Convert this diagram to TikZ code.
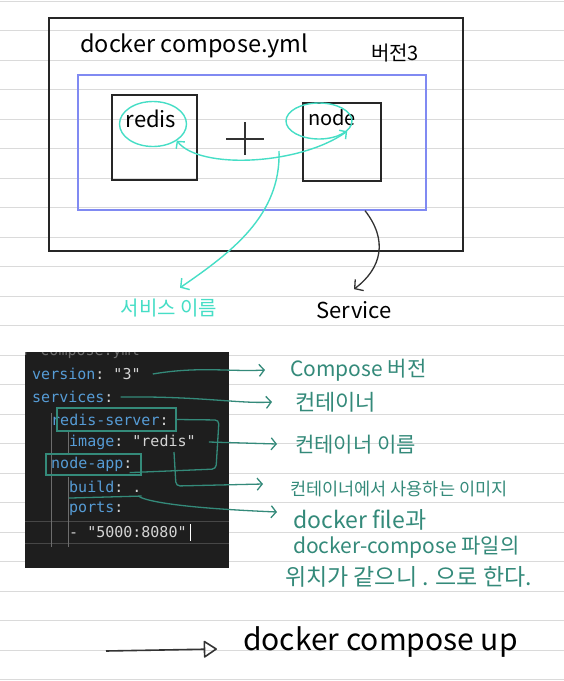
\documentclass[tikz,border=0pt]{standalone}
\usepackage{fontspec}
\setmainfont{Noto Sans CJK KR}
\setmonofont{DejaVu Sans Mono}
\usetikzlibrary{shapes.geometric, arrows.meta, positioning}

\definecolor{penteal}{RGB}{70,222,198}
\definecolor{darkteal}{RGB}{52,138,122}
\definecolor{penblue}{RGB}{128,138,242}
\definecolor{ruled}{RGB}{218,218,218}
\definecolor{codebg}{RGB}{30,30,30}
\definecolor{codekey}{RGB}{86,156,214}
\definecolor{codeval}{RGB}{212,212,212}

\begin{document}
\begin{tikzpicture}[
    x=1pt, y=-1pt,
    ruleline/.style={draw=ruled, line width=0.8pt},
    box/.style={rectangle, draw=black!85, line width=1.3pt, inner sep=0pt},
    ring/.style={ellipse, draw=penteal, line width=1.4pt, inner sep=0pt},
    hand/.style={font=\fontsize{20}{24}\selectfont, inner sep=0pt},
    note/.style={hand, font=\fontsize{21}{24}\selectfont, text=darkteal, anchor=west},
    code/.style={font=\ttfamily\fontsize{15}{18}\selectfont, text=codeval, anchor=west, inner sep=0pt},
    codebox/.style={rectangle, draw=darkteal, line width=1.2pt, inner sep=0pt},
    link/.style={draw=penteal, line width=1.4pt},
    tealline/.style={draw=darkteal, line width=1.3pt},
    tealarrow/.style={tealline, -{Straight Barb[length=5pt, width=12pt]}},
    pen/.style={draw=black!80, line width=1.3pt}
]
    % paper
    \fill[white] (0,0) rectangle (564,681);
    \useasboundingbox (0,0) rectangle (564,681);
    \foreach \k in {0,...,23}
        \draw[ruleline] (0,1+29.5*\k) -- (564,1+29.5*\k);

    % compose file sketch
    \node[box, minimum width=414, minimum height=233] (composefile) at (256,134.5) {};
    \node[box, draw=penblue, minimum width=348, minimum height=135] (servicebox) at (252,142.5) {};
    \node[box, minimum width=85, minimum height=85] (redisbox) at (154.5,137.5) {};
    \node[box, minimum width=78, minimum height=78] (nodebox) at (342,142) {};
    \node[hand, font=\fontsize{23.5}{28}\selectfont, anchor=west] (filename) at (80,46) {docker compose.yml};
    \node[hand] (verlabel) at (395,53) {버전3};
    \node[hand, font=\fontsize{22}{26}\selectfont] (redislabel) at (151,119) {redis};
    \node[hand] (nodelabel) at (332,118) {node};
    \draw[pen] (226,139) -- (264,139) (245,122) -- (245,155);

    % service names
    \node[ring, minimum width=67, minimum height=45] (redisring) at (153,124) {};
    \node[ring, minimum width=66, minimum height=36] (nodering) at (319,121) {};
    \coordinate (svcjoin) at (279,151);
    \draw[link, {Straight Barb[length=5pt, width=11pt]}-{Straight Barb[length=5pt, width=11pt]}]
        (redisring.-35) .. controls (200,170) and (300,165) .. (nodering.-20);
    \node[hand, text=penteal] (svcname) at (169,308) {서비스 이름};
    \node[hand, font=\fontsize{22}{26}\selectfont] (svclabel) at (354,310) {Service};
    \draw[link, -{Straight Barb[length=6pt, width=14pt]}]
        (svcjoin) .. controls (281,215) and (232,252) .. ([xshift=11pt, yshift=11pt]svcname.north);
    \draw[pen, -{Straight Barb[length=6pt, width=14pt]}]
        ([xshift=113pt]servicebox.south) .. controls (388,240) and (382,268) .. ([yshift=12pt]svclabel.north);

    % editor
    \node[fill=codebg, minimum width=204, minimum height=216, inner sep=0pt, anchor=north west] (editor) at (25,352) {};
    \begin{scope}
        \clip (editor.north west) rectangle (editor.south east);
        \node[code, text=gray!80!codebg, anchor=base east] (tabname) at (140,355) {docker-compose.yml};
    \end{scope}
    \draw[draw=white!18!codebg, line width=0.8pt] (25,521) -- (229,521) (25,543) -- (229,543);
    \draw[draw=white!35!codebg, line width=0.8pt] (51,413) -- (51,547) (68,432) -- (68,453) (68,477) -- (68,547);
    \node[code] (lversion) at (32,374) {\textcolor{codekey}{version}: "3"};
    \node[code] (lservices) at (32,397) {\textcolor{codekey}{services}:};
    \node[code] (lredis) at (51,420) {\textcolor{codekey}{redis-server}:};
    \node[code] (limage) at (69,442) {\textcolor{codekey}{image}: "redis"};
    \node[code] (lnode) at (51,464) {\textcolor{codekey}{node-app}:};
    \node[code] (lbuild) at (69,487) {\textcolor{codekey}{build}: .};
    \node[code] (lports) at (69,509) {\textcolor{codekey}{ports}:};
    \node[code] (lport) at (69,532) {- "5000:8080"};
    \draw[white, line width=1pt] (190,524) -- (190,541);
    \node[codebox, minimum width=119, minimum height=23] (redisname) at (116.5,419.5) {};
    \node[codebox, minimum width=95, minimum height=21] (nodename) at (93.5,464.5) {};

    % notes
    \node[note] (nver) at (290,370) {Compose 버전};
    \node[note, font=\fontsize{22}{26}\selectfont] (ncont) at (295,402) {컨테이너};
    \node[note] (nname) at (295,445) {컨테이너 이름};
    \node[note, font=\fontsize{17.5}{21}\selectfont] (nimg) at (290,489) {컨테이너에서 사용하는 이미지};
    \node[note, font=\fontsize{23}{26}\selectfont] (nfileA) at (293,520) {docker file과};
    \node[note] (nfileB) at (293,547) {docker-compose 파일의};
    \node[note, font=\fontsize{23}{26}\selectfont] (nfileC) at (285,577) {위치가 같으니 . 으로 한다.};

    % annotation arrows
    \coordinate (imgval) at (174,452);
    \draw[tealarrow] ([xshift=12pt]lversion.east) .. controls (200,366) and (230,372) .. ([xshift=-25pt]nver.west);
    \draw[tealarrow] ([xshift=7pt]lservices.east) .. controls (200,396) and (240,404) .. ([xshift=-23pt]ncont.west);
    \draw[tealarrow] ([xshift=13pt]limage.east) -- ([xshift=-18pt, yshift=1pt]nname.west);
    \draw[tealline, rounded corners=4pt] (redisname.east) -- (219,420) -- (216,469) -- ([xshift=-12pt, yshift=3pt]nodename.south east);
    \draw[tealarrow, rounded corners=4pt] (imgval) -- (176,486) -- ([xshift=-27pt, yshift=5pt]nimg.west);
    \draw[tealline] ([yshift=-5pt]lbuild.south west) -- ([yshift=-3pt]lbuild.south east);
    \draw[tealarrow] ([xshift=-2pt, yshift=-4pt]lbuild.south east) .. controls (160,506) and (230,510) .. ([xshift=-16pt, yshift=8pt]nfileA.west);

    % command
    \coordinate (upstart) at (106,651);
    \node[hand, font=\fontsize{30}{34}\selectfont, anchor=west] (upcmd) at (243,642) {docker compose up};
    \draw[pen, line width=1.6pt, -{Triangle[open, round, length=14pt, width=18pt]}] (upstart) -- ([xshift=-26pt, yshift=-7pt]upcmd.west);
\end{tikzpicture}
\end{document}
